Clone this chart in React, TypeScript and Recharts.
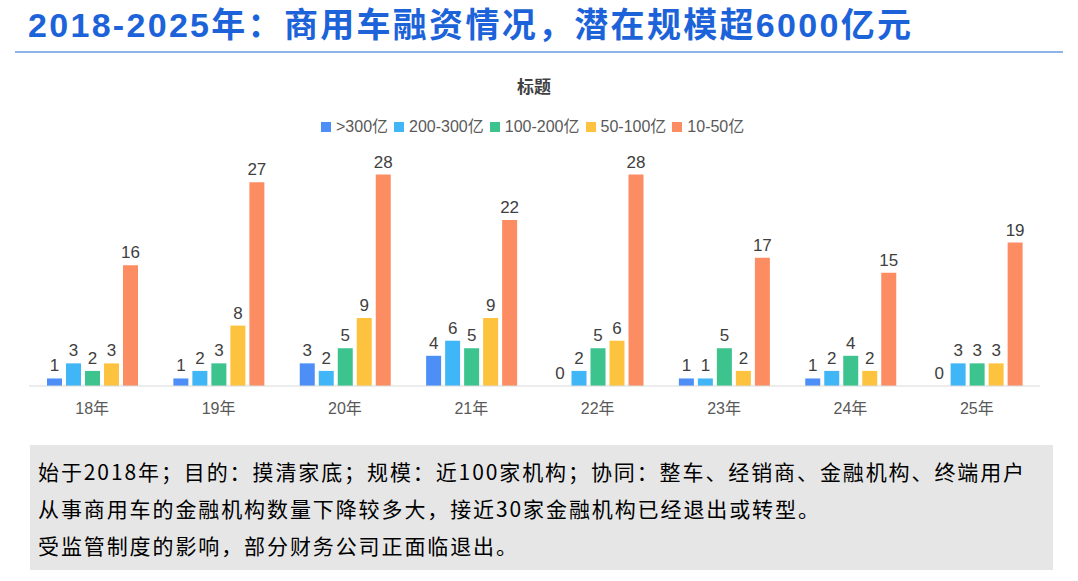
import React from "react";
import { Bar, BarChart, LabelList, XAxis, YAxis } from "recharts";

const categories = ["18年", "19年", "20年", "21年", "22年", "23年", "24年", "25年"];
const over300 = [1, 1, 3, 4, 0, 1, 1, 0];
const from200to300 = [3, 2, 2, 6, 2, 1, 2, 3];
const from100to200 = [2, 3, 5, 5, 5, 5, 4, 3];
const from50to100 = [3, 8, 9, 9, 6, 2, 2, 3];
const from10to50 = [16, 27, 28, 22, 28, 17, 15, 19];

const seriesNames = [">300亿", "200-300亿", "100-200亿", "50-100亿", "10-50亿"];
const seriesColors = ["#4e8ff7", "#41b6f6", "#3dc38e", "#fdc33f", "#fc8d62"];
const seriesKeys = ["s1", "s2", "s3", "s4", "s5"];

const notes = [
  "始于2018年；目的：摸清家底；规模：近100家机构；协同：整车、经销商、金融机构、终端用户",
  "从事商用车的金融机构数量下降较多大，接近30家金融机构已经退出或转型。",
  "受监管制度的影响，部分财务公司正面临退出。",
];

const rows = categories.map((name, i) => ({
  name,
  s1: over300[i],
  s2: from200to300[i],
  s3: from100to200[i],
  s4: from50to100[i],
  s5: from10to50[i],
}));

const FONT = '"Liberation Sans", "Noto Sans CJK SC", sans-serif';

export default function App() {
  return (
    <div
      style={{
        position: "absolute",
        left: 0,
        top: 0,
        width: 1078,
        height: 581,
        background: "#fff",
        overflow: "hidden",
        fontFamily: FONT,
      }}
    >
      {/* page heading */}
      <div
        style={{
          position: "absolute",
          left: 28,
          top: 3,
          fontSize: 34,
          fontWeight: 700,
          color: "#1c63d9",
          letterSpacing: 2.3,
          whiteSpace: "nowrap",
          lineHeight: "44px",
        }}
      >
        2018-2025年：商用车融资情况，潜在规模超6000亿元
      </div>
      <div
        style={{
          position: "absolute",
          left: 15,
          top: 51,
          width: 1048,
          height: 2,
          background: "#8db3e8",
        }}
      />

      {/* chart title + legend */}
      <div
        style={{
          position: "absolute",
          left: 0,
          width: 1068,
          top: 77,
          textAlign: "center",
          fontSize: 17,
          fontWeight: 700,
          color: "#404040",
          lineHeight: "22px",
        }}
      >
        标题
      </div>
      <div
        style={{
          position: "absolute",
          left: 321,
          top: 117,
          display: "flex",
          alignItems: "center",
          gap: 6,
          fontSize: 16,
          color: "#595959",
          lineHeight: "20px",
          whiteSpace: "nowrap",
        }}
      >
        {seriesNames.map((n, i) => (
          <div key={n} style={{ display: "flex", alignItems: "center", gap: 5 }}>
            <span style={{ width: 10, height: 10, background: seriesColors[i], display: "inline-block" }} />
            <span>{n}</span>
          </div>
        ))}
      </div>

      <div style={{ position: "absolute", left: 0, top: 0 }}>
        <BarChart
          width={1078}
          height={581}
          data={rows}
          margin={{ top: 159.5, right: 38, left: 29, bottom: 165 }}
          barSize={15}
          barGap={4}
        >
          <XAxis
            dataKey="name"
            height={30}
            axisLine={{ stroke: "#d9d9d9" }}
            tickLine={false}
            tickSize={0}
            tickMargin={17}
            tick={{ fill: "#595959", fontSize: 16, fontFamily: FONT }}
          />
          <YAxis hide domain={[0, 30]} />
          {seriesKeys.map((k, i) => (
            <Bar
              key={k}
              dataKey={k}
              name={seriesNames[i]}
              fill={seriesColors[i]}
              minPointSize={0.01}
              isAnimationActive={false}
            >
              <LabelList
                dataKey={k}
                position="top"
                offset={7}
                fill="#404040"
                fontSize={17}
                fontFamily={FONT}
              />
            </Bar>
          ))}
        </BarChart>
      </div>

      {/* notes box */}
      <div
        style={{
          position: "absolute",
          left: 30,
          top: 445,
          width: 1023,
          height: 125,
          background: "#e6e6e6",
          boxSizing: "border-box",
          padding: "8px 0 0 8px",
          fontFamily: '"Noto Sans CJK SC", sans-serif',
          fontSize: 21,
          letterSpacing: 1.9,
          color: "#000",
          lineHeight: "37px",
          whiteSpace: "nowrap",
        }}
      >
        {notes.map((t) => (
          <div key={t}>{t}</div>
        ))}
      </div>
    </div>
  );
}
